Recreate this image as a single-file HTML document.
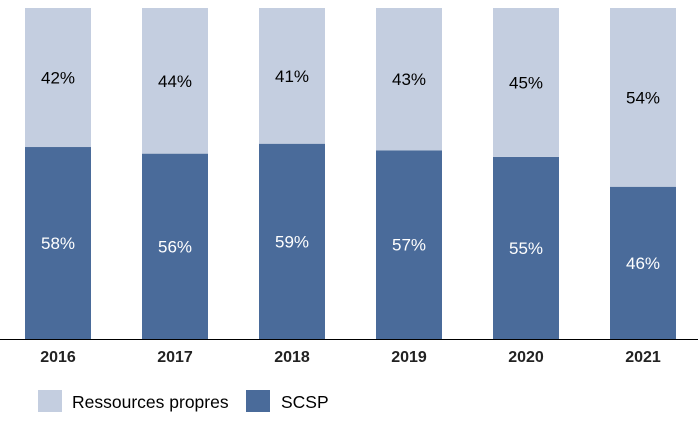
<!DOCTYPE html>
<html><head><meta charset="utf-8"><style>
body{margin:0;background:#fff;font-family:"Liberation Sans",sans-serif;}
</style></head><body>
<svg id="c" width="698" height="420" xmlns="http://www.w3.org/2000/svg"></svg>
<script>
const categories=["2016","2017","2018","2019","2020","2021"];
const scsp=[58,56,59,57,55,46];
const propres=[42,44,41,43,45,54];
const svg=document.getElementById('c');
const NS="http://www.w3.org/2000/svg";
const top0=8,base=339,plotH=base-top0;
const x0=58,step=117,bw=66;
function xc(i){return x0+i*step;}
function y(v){return base-v/100*plotH;}
function mk(t,a,txt){const e=document.createElementNS(NS,t);for(const k in a)e.setAttribute(k,a[k]);if(txt!==undefined)e.textContent=txt;svg.appendChild(e);return e;}
categories.forEach((c,i)=>{
 const s=scsp[i],p=propres[i];
 let r=mk('rect',{x:xc(i)-bw/2,y:y(s),width:bw,height:base-y(s),fill:'#4A6B9A'});
 
 
 let r2=mk('rect',{x:xc(i)-bw/2,y:y(s+p),width:bw,height:y(s)-y(s+p),fill:'#C4CEE0'});
 
 
 let t=mk('text',{x:xc(i),y:(y(s)+base)/2+6,'text-anchor':'middle','font-size':17,fill:'#fff'},s+'%');
 
 
 let t2=mk('text',{x:xc(i),y:(y(s)+y(s+p))/2+6,'text-anchor':'middle','font-size':17,fill:'#000'},p+'%');
 
 
 let tl=mk('text',{x:xc(i),y:362,'text-anchor':'middle','font-size':16,'font-weight':'bold',fill:'#222'},c);
 
 
});
let ax=mk('line',{x1:0,x2:698,y1:base+0.5,y2:base+0.5,stroke:'#000','stroke-width':1});


let l1=mk('rect',{x:38,y:390,width:24,height:22,fill:'#C4CEE0'});


let lt1=mk('text',{x:72,y:408,'font-size':17.5,fill:'#000'},'Ressources propres');


let l2=mk('rect',{x:246,y:390,width:24,height:22,fill:'#4A6B9A'});


let lt2=mk('text',{x:281,y:408,'font-size':17.5,fill:'#000'},'SCSP');


</script>
</body></html>
